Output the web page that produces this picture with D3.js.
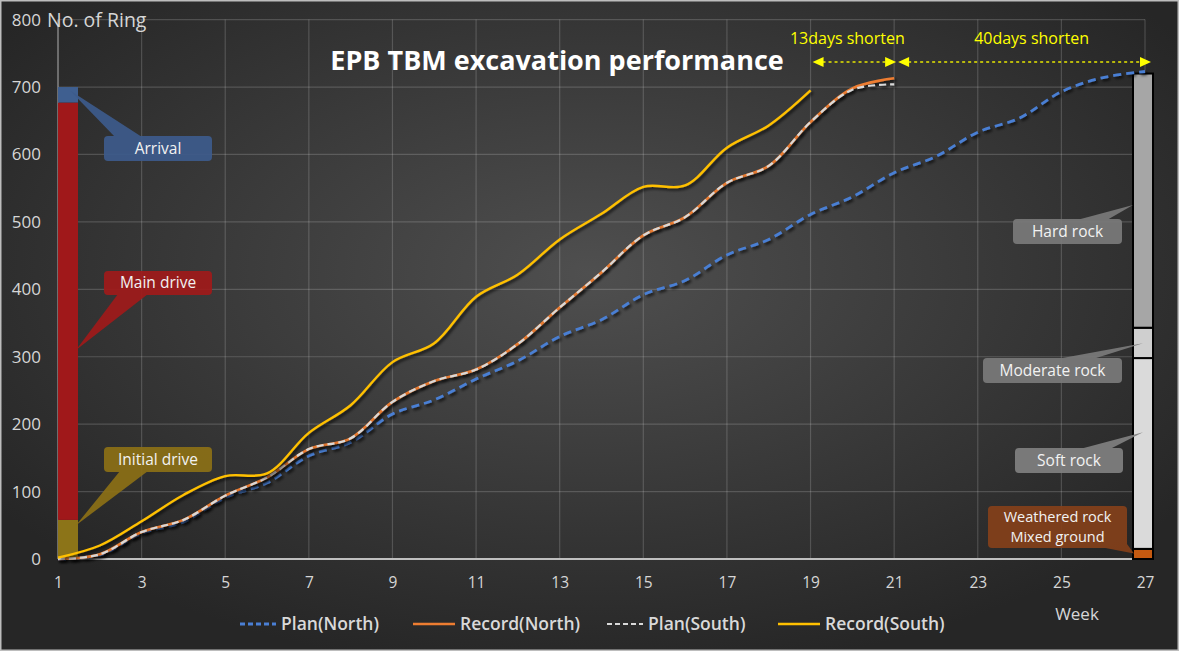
<!DOCTYPE html>
<html>
<head>
<meta charset="utf-8">
<script src="https://cdn.jsdelivr.net/npm/d3@7"></script>
<style>
  html, body { margin: 0; padding: 0; background: #2b2b2b; }
  svg { display: block; font-family: "Open Sans", "Noto Sans", sans-serif; }
</style>
</head>
<body>
<div id="chart"></div>
<script>
// ---- data ----
const weeks = [1, 2, 3, 4, 5, 6, 7, 8, 9, 10, 11, 12, 13, 14, 15, 16, 17, 18, 19, 20, 21, 22, 23, 24, 25, 26, 27];
const planNorth   = [0, 6, 38, 55, 91, 113, 153, 173, 215, 236, 267, 294, 330, 355, 392, 413, 451, 474, 511, 537, 573, 597, 633, 654, 693, 714, 723];
const recordNorth = [0, 7, 40, 58, 94, 121, 163, 179, 233, 264, 281, 319, 373, 425, 480, 507, 558, 583, 648, 698, 713];
const planSouth   = [0, 7, 40, 58, 94, 121, 163, 179, 233, 264, 281, 319, 373, 425, 480, 507, 558, 583, 648, 696, 704];
const recordSouth = [2, 20, 56, 95, 123, 127, 187, 228, 292, 320, 389, 422, 474, 512, 552, 554, 610, 643, 695];

const weekTicks = [1, 3, 5, 7, 9, 11, 13, 15, 17, 19, 21, 23, 25, 27];
const ringTicks = [0, 100, 200, 300, 400, 500, 600, 700, 800];

const driveStages = ["Initial drive", "Main drive", "Arrival"];
const driveBounds = [0, 58, 677, 700];

const rockLayers = ["Weathered rock|Mixed ground", "Soft rock", "Moderate rock", "Hard rock"];
const rockBounds = [0, 15, 298, 343, 720];

const shortenLabels = ["13days shorten", "40days shorten"];
const shortenWeeks = [19, 21, 27];

// ---- layout ----
const width = 1179, height = 651;

const x = d3.scaleLinear().domain([1, 27]).range([58, 1145]);
const y = d3.scaleLinear().domain([0, 800]).range([559, 19.6]);

const svg = d3.select("#chart")
    .append("svg")
    .attr("width", width)
    .attr("height", height);

const defs = svg.append("defs");

// background: dark radial gradient
const bg = defs.append("radialGradient")
    .attr("id", "bg-grad")
    .attr("cx", "50%").attr("cy", "42%")
    .attr("r", "62%");
bg.append("stop").attr("offset", "0%").attr("stop-color", "#4f4f4f");
bg.append("stop").attr("offset", "100%").attr("stop-color", "#262626");

const shadow = defs.append("filter")
    .attr("id", "shadow")
    .attr("x", "-5%").attr("y", "-5%")
    .attr("width", "110%").attr("height", "110%");
shadow.append("feDropShadow")
    .attr("dx", 2).attr("dy", 2)
    .attr("stdDeviation", 1.5)
    .attr("flood-color", "#000")
    .attr("flood-opacity", 0.75);

svg.append("rect")
    .attr("width", width)
    .attr("height", height)
    .attr("fill", "url(#bg-grad)");

// frame
svg.append("rect")
    .attr("x", 0.75).attr("y", 0.75)
    .attr("width", width - 1.5).attr("height", height - 1.5)
    .attr("fill", "none")
    .attr("stroke", "#bdbdbd")
    .attr("stroke-width", 1.5);

// ---- grid ----
const grid = svg.append("g");

grid.selectAll(".hgrid")
    .data(ringTicks.slice(1))
    .enter().append("line")
    .attr("x1", x(1)).attr("x2", x(27))
    .attr("y1", d => y(d)).attr("y2", d => y(d))
    .attr("stroke", "rgba(255,255,255,0.17)")
    .attr("stroke-width", 1.2);

grid.selectAll(".vgrid")
    .data(weekTicks.slice(1))
    .enter().append("line")
    .attr("x1", d => x(d)).attr("x2", d => x(d))
    .attr("y1", y(0)).attr("y2", y(800))
    .attr("stroke", "rgba(255,255,255,0.17)")
    .attr("stroke-width", 1.2);

// axis lines
svg.append("line")
    .attr("x1", x(1)).attr("x2", x(1))
    .attr("y1", y(0)).attr("y2", y(800))
    .attr("stroke", "#9a9a9a")
    .attr("stroke-width", 1.2);

svg.append("line")
    .attr("x1", x(1)).attr("x2", x(27))
    .attr("y1", y(0)).attr("y2", y(0))
    .attr("stroke", "#bfbfbf")
    .attr("stroke-width", 2);

// ---- axes (labels only) ----
const yAxis = svg.append("g")
    .attr("transform", `translate(${x(1) - 17},0)`)
    .call(d3.axisLeft(y).tickValues(ringTicks).tickSize(0).tickPadding(0));
yAxis.select(".domain").remove();
yAxis.selectAll("text")
    .attr("fill", "#d6d6d6")
    .style("font-size", "17px")
    .style("font-family", "'Open Sans', sans-serif");

const xAxis = svg.append("g")
    .attr("transform", `translate(0,${y(0) + 18})`)
    .call(d3.axisBottom(x).tickValues(weekTicks).tickFormat(d3.format("d")).tickSize(0).tickPadding(0));
xAxis.select(".domain").remove();
xAxis.selectAll("text")
    .attr("fill", "#d6d6d6")
    .style("font-size", "15.5px")
    .style("font-family", "'Open Sans', sans-serif");

svg.append("text")
    .attr("x", 47).attr("y", 27)
    .attr("fill", "#d6d6d6")
    .style("font-size", "19.5px")
    .text("No. of Ring");

svg.append("text")
    .attr("x", 1077).attr("y", 620)
    .attr("text-anchor", "middle")
    .attr("fill", "#d6d6d6")
    .style("font-size", "17px")
    .text("Week");

// ---- title ----
svg.append("text")
    .attr("x", 557).attr("y", 70)
    .attr("text-anchor", "middle")
    .attr("fill", "#ffffff")
    .style("font-size", "27px")
    .style("font-weight", "bold")
    .text("EPB TBM excavation performance");

// ---- left stage bar ----
const driveColors = ["#8c7418", "#a0181a", "#3f5f90"];
const barLeft = svg.append("g");
barLeft.selectAll("rect")
    .data(driveStages)
    .enter().append("rect")
    .attr("x", x(1))
    .attr("width", 20)
    .attr("y", (d, i) => y(driveBounds[i + 1]))
    .attr("height", (d, i) => y(driveBounds[i]) - y(driveBounds[i + 1]))
    .attr("fill", (d, i) => driveColors[i]);

// ---- right rock bar ----
const rockColors = ["#c55a11", "#dadada", "#cfcfcf", "#a6a6a6"];
const barRight = svg.append("g");
barRight.selectAll("rect")
    .data(rockLayers)
    .enter().append("rect")
    .attr("x", x(27) - 12)
    .attr("width", 20)
    .attr("y", (d, i) => y(rockBounds[i + 1]))
    .attr("height", (d, i) => y(rockBounds[i]) - y(rockBounds[i + 1]))
    .attr("fill", (d, i) => rockColors[i])
    .attr("stroke", "#000")
    .attr("stroke-width", 2);

// ---- series ----
const series = [
    { name: "Plan(North)",   values: planNorth,   color: "#4a7fd4", width: 2.8, dash: "8,5" },
    { name: "Record(North)", values: recordNorth, color: "#ed7d31", width: 2.6, dash: null },
    { name: "Plan(South)",   values: planSouth,   color: "#d9d9d9", width: 2.2, dash: "7,4" },
    { name: "Record(South)", values: recordSouth, color: "#ffc000", width: 2.4, dash: null }
];

const line = d3.line()
    .x((d, i) => x(weeks[i]))
    .y(d => y(d))
    .curve(d3.curveCatmullRom.alpha(0.5));

svg.append("g")
    .selectAll("path")
    .data(series)
    .enter().append("path")
    .attr("d", d => line(d.values))
    .attr("fill", "none")
    .attr("stroke", d => d.color)
    .attr("stroke-width", d => d.width)
    .attr("stroke-dasharray", d => d.dash)
    .attr("filter", "url(#shadow)");

// ---- callouts ----
function callout(box, base, tip, fill, lines) {
    const g = svg.append("g").attr("opacity", 0.92);
    g.append("path")
        .attr("d", `M${base[0][0]},${base[0][1]}L${tip[0]},${tip[1]}L${base[1][0]},${base[1][1]}Z`)
        .attr("fill", fill);
    g.append("rect")
        .attr("x", box.x).attr("y", box.y)
        .attr("width", box.w).attr("height", box.h)
        .attr("rx", 4)
        .attr("fill", fill);
    const lh = 20;
    const fs = lines.length > 1 ? "14.5px" : "15.5px";
    const cy = box.y + box.h / 2 - (lines.length - 1) * lh / 2;
    lines.forEach((t, i) => {
        svg.append("text")
            .attr("x", box.x + box.w / 2)
            .attr("y", cy + i * lh)
            .attr("dy", "0.35em")
            .attr("text-anchor", "middle")
            .attr("fill", "#f2f2f2")
            .style("font-size", fs)
            .text(t);
    });
}

const barMid = x(1) + 16;
callout({ x: 104, y: 136, w: 108, h: 25 }, [[115, 137], [142, 137]], [barMid - 4, y(695)], "#3d5b8c", [driveStages[2]]);
callout({ x: 104, y: 271, w: 108, h: 24 }, [[118, 294], [148, 294]], [barMid + 2, y(310)], "#a01a1a", [driveStages[1]]);
callout({ x: 104, y: 447, w: 108, h: 25 }, [[120, 471], [148, 471]], [barMid + 2, y(50)], "#8c7016", [driveStages[0]]);

const rockMid = x(27) - 2;
callout({ x: 1013, y: 219, w: 109, h: 25 }, [[1077, 220], [1107, 220]], [x(27) - 12, y(525)], "#7a7a7a", [rockLayers[3]]);
callout({ x: 983, y: 358, w: 139, h: 25 }, [[1057, 359], [1093, 359]], [rockMid, y(320)], "#7a7a7a", [rockLayers[2]]);
callout({ x: 1015, y: 448, w: 108, h: 25 }, [[1080, 449], [1110, 449]], [rockMid, y(188)], "#808080", [rockLayers[1]]);
callout({ x: 988, y: 506, w: 139, h: 42 }, [[1095, 546], [1124, 540]], [x(27) - 11, y(8)], "#84401a", rockLayers[0].split("|"));

// ---- shorten arrows ----
const arrowY = 62;
const arrows = svg.append("g");
shortenLabels.forEach((label, i) => {
    const x1 = x(shortenWeeks[i]) + (i === 0 ? 2 : 4);
    const x2 = x(shortenWeeks[i + 1]) + (i === 0 ? 2 : 6);
    arrows.append("line")
        .attr("x1", x1 + 10).attr("x2", x2 - 10)
        .attr("y1", arrowY).attr("y2", arrowY)
        .attr("stroke", "#e6e600")
        .attr("stroke-width", 1.3)
        .attr("stroke-dasharray", "3,3");
    arrows.append("path")
        .attr("d", `M${x1},${arrowY}L${x1 + 11},${arrowY - 5}L${x1 + 11},${arrowY + 5}Z`)
        .attr("fill", "#ffff00");
    arrows.append("path")
        .attr("d", `M${x2},${arrowY}L${x2 - 11},${arrowY - 5}L${x2 - 11},${arrowY + 5}Z`)
        .attr("fill", "#ffff00");
    arrows.append("text")
        .attr("x", (x(shortenWeeks[i]) + x(shortenWeeks[i + 1])) / 2 + (i === 0 ? -5 : 12))
        .attr("y", 44)
        .attr("text-anchor", "middle")
        .attr("fill", "#ffff00")
        .style("font-size", "16px")
        .text(label);
});

// ---- legend ----
const legendStarts = [240, 413, 607, 778];
const legend = svg.append("g").attr("transform", "translate(0,624)");
series.forEach((s, i) => {
    const lx = legendStarts[i];
    const len = s.dash ? 36 : 42;
    legend.append("line")
        .attr("x1", lx).attr("x2", lx + len)
        .attr("y1", 0).attr("y2", 0)
        .attr("stroke", s.color)
        .attr("stroke-width", s.width)
        .attr("stroke-dasharray", s.dash ? "5,3" : null);
    legend.append("text")
        .attr("x", lx + len + 5)
        .attr("y", 0)
        .attr("dy", "0.35em")
        .attr("fill", "#d9d9d9")
        .style("font-size", "17.5px")
        .style("font-weight", "600")
        .text(s.name);
});
</script>
</body>
</html>
